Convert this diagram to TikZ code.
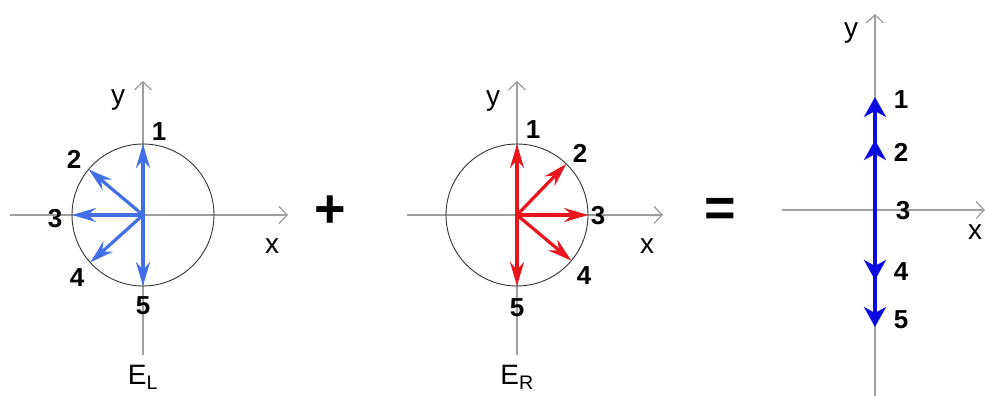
\documentclass[tikz,border=0pt]{standalone}
\usepackage{fontspec}
\setmainfont{Liberation Sans}
\usetikzlibrary{arrows.meta,calc}

\definecolor{lblue}{RGB}{66,110,230}
\definecolor{dblue}{RGB}{10,10,225}
\definecolor{vred}{RGB}{232,22,28}

\tikzset{
  axis/.style={gray!75,line width=1.3pt,-{Straight Barb[length=8pt,width=17pt]}},
  ring/.style={black!80,line width=0.9pt},
  vec/.style={line width=3.2pt,-{Stealth[length=24pt,width=14pt,inset=8pt]}},
  bigvec/.style={dblue,line width=3.6pt,-{Stealth[length=20pt,width=22pt,inset=6pt]}},
  num/.style={font=\fontsize{26}{26}\selectfont\bfseries,inner sep=0pt},
  ax/.style={font=\fontsize{28}{28}\selectfont,inner sep=0pt},
  op/.style={font=\fontsize{54}{54}\selectfont\bfseries,inner sep=0pt}
}

\begin{document}
\begin{tikzpicture}[x=1pt,y=1pt]
\useasboundingbox (0,0) rectangle (985,396);

\coordinate (OL) at (143,181);
\coordinate (LxA) at (10,181);
\coordinate (LxB) at (288,181);
\coordinate (LyA) at (143,41);
\coordinate (LyB) at (143,315);
\draw[axis] (LxA) -- (LxB);
\draw[axis] (LyA) -- (LyB);
\draw[ring] (OL) circle (71);
\coordinate (L1) at ($(OL)+(90:71)$);
\coordinate (L2) at ($(OL)+(140:71)$);
\coordinate (L3) at ($(OL)+(180:71)$);
\coordinate (L4) at ($(OL)+(222:71)$);
\coordinate (L5) at ($(OL)+(270:71)$);
\draw[vec,lblue] (OL) -- (L1);
\draw[vec,lblue] (OL) -- (L2);
\draw[vec,lblue] (OL) -- (L3);
\draw[vec,lblue] (OL) -- (L4);
\draw[vec,lblue] (OL) -- (L5);
\node[num] (l1) at (159,264) {1};
\node[num] (l2) at (74,237) {2};
\node[num] (l3) at (55,177) {3};
\node[num] (l4) at (77,118) {4};
\node[num] (l5) at (143,90) {5};
\node[ax] (ly) at (118,296) {y};
\node[ax] (lx) at (272,150) {x};
\node[ax] (EL) at (143,19) {E\textsubscript{L}};

\node[op] (plus) at (330,184) {+};

\coordinate (OR) at (517,181);
\coordinate (RxA) at (407,181);
\coordinate (RxB) at (663,181);
\coordinate (RyA) at (517,41);
\coordinate (RyB) at (517,315);
\draw[axis] (RxA) -- (RxB);
\draw[axis] (RyA) -- (RyB);
\draw[ring] (OR) circle (71);
\coordinate (R1) at ($(OR)+(90:71)$);
\coordinate (R2) at ($(OR)+(46:71)$);
\coordinate (R3) at ($(OR)+(0:71)$);
\coordinate (R4) at ($(OR)+(-40:71)$);
\coordinate (R5) at ($(OR)+(270:71)$);
\draw[vec,vred] (OR) -- (R1);
\draw[vec,vred] (OR) -- (R2);
\draw[vec,vred] (OR) -- (R3);
\draw[vec,vred] (OR) -- (R4);
\draw[vec,vred] (OR) -- (R5);
\node[num] (r1) at (533,266) {1};
\node[num] (r2) at (580,243) {2};
\node[num] (r3) at (598,180) {3};
\node[num] (r4) at (584,120) {4};
\node[num] (r5) at (517,88) {5};
\node[ax] (ry) at (493,295) {y};
\node[ax] (rx) at (647,150) {x};
\node[ax] (ER) at (517,19) {E\textsubscript{R}};

\node[op] (equals) at (720,184) {=};

\coordinate (OS) at (875,186);
\coordinate (SxA) at (782,186);
\coordinate (SxB) at (985,186);
\coordinate (SyA) at (875,0);
\coordinate (SyB) at (875,382);
\draw[axis] (SxA) -- (SxB);
\draw[axis] (SyA) -- (SyB);
\coordinate (S1) at (875,299);
\coordinate (S2) at (875,256);
\coordinate (S4) at (875,116);
\coordinate (S5) at (875,69);
\draw[bigvec] (OS) -- (S1);
\draw[bigvec] (OS) -- (S2);
\draw[bigvec] (OS) -- (S4);
\draw[bigvec] (OS) -- (S5);
\node[num] (s1) at (901,296) {1};
\node[num] (s2) at (901,244) {2};
\node[num] (s3) at (903,185) {3};
\node[num] (s4) at (901,124) {4};
\node[num] (s5) at (901,76) {5};
\node[ax] (sy) at (851,363) {y};
\node[ax] (sx) at (975,164) {x};
\end{tikzpicture}
\end{document}
